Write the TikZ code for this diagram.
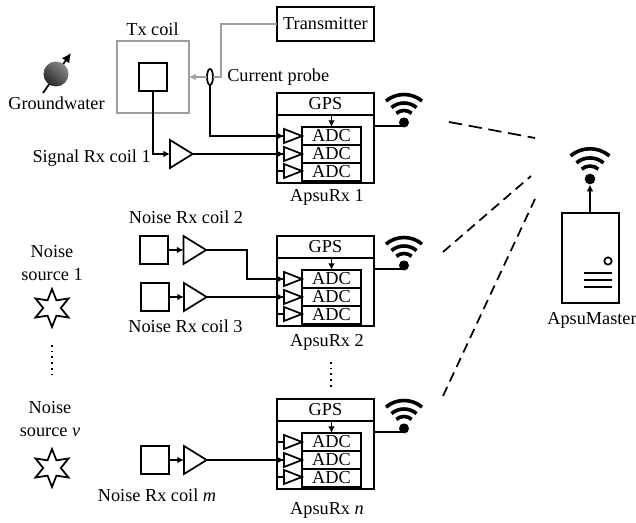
\documentclass[tikz,border=0pt]{standalone}
\usepackage{fontspec}
\setmainfont{Liberation Serif}
\usepackage{tikz}
\usetikzlibrary{arrows.meta,shapes.geometric}

\tikzset{
  every node/.style={font=\fontsize{13.7}{17}\selectfont},
  blk/.style={draw,line width=1.3pt},
  boxnode/.style={blk,rectangle,inner sep=0pt,outer sep=0pt},
  ampnode/.style={blk,isosceles triangle,isosceles triangle stretches,anchor=lower side,inner sep=0pt,outer sep=0pt,minimum width=21pt,minimum height=17pt},
  trinode/.style={ampnode,minimum width=10.5pt,minimum height=13.5pt},
  starnode/.style={blk,star,star points=6,star point ratio=2.15,inner sep=0pt,minimum size=28.5pt},
  wifidot/.style={circle,fill=black,inner sep=0pt,minimum size=7.5pt},
  link/.style={line width=1.3pt,-{Latex[length=5pt,width=5pt]}},
  graylink/.style={draw=black!38,line width=1.3pt},
  radio/.style={line width=1.3pt,dash pattern=on 7.5pt off 4.5pt},
  dotline/.style={line width=1.3pt,dash pattern=on 1.3pt off 3pt}
}

\begin{document}
\begin{tikzpicture}[x=0.75pt,y=0.75pt,yscale=-1,xscale=1]
\useasboundingbox (0,0) rectangle (636,523);

%Shape: Groundwater
\draw [line width=1.3pt,-{Latex[length=7pt,width=7pt]}] (43,93) -- (71,53);
\shade [top color=black!45,bottom color=black!85,shading angle=-40] (56,74) circle [radius=12.5];

% Text Node
\node (groundwater) at (56.5,103) {Groundwater};
\node (txlabel) at (152.5,29) {Tx coil};
\node [anchor=west,inner sep=0pt] (probelabel) at (227,77) {Current probe};
\node [anchor=east,inner sep=0pt] (siglabel) at (151,158) {Signal Rx coil 1};
\node (noiselabela) at (186,217) {Noise Rx coil 2};
\node (noiselabelb) at (185.5,326) {Noise Rx coil 3};
\node (noiselabelc) at (157,495) {Noise Rx coil \textit{m}};
\node [align=center] (sourcea) at (52,263) {Noise\\source 1};
\node [align=center] (sourceb) at (50,419) {Noise\\source \textit{v}};

%Shape: Star
\node [starnode] (stara) at (52,308) {};
\node [starnode] (starb) at (52,468) {};

%Straight Lines: dots
\draw [dotline] (52,345) -- (52,374);
\draw [dotline] (331,362) -- (331,390);

%Shape: Coils and transmitter
\node [boxnode,draw=black!38,minimum size=54pt] (txcoil) at (153,77) {};
\node [boxnode,minimum size=21pt] (sigcoil) at (153,77) {};
\node [boxnode,minimum width=72.75pt,minimum height=25.5pt] (transmitter) at (325.5,24) {Transmitter};
\node [blk,ellipse,inner sep=0pt,outer sep=0pt,minimum width=4.5pt,minimum height=12pt,fill=white] (probe) at (210,77) {};
\node [boxnode,minimum size=21pt] (coila) at (154,250) {};
\node [boxnode,minimum size=21pt] (coilb) at (155,297) {};
\node [boxnode,minimum size=21pt] (coilc) at (155,460) {};

%Shape: Amplifiers
\node [ampnode] (ampa) at (170,154) {};
\node [ampnode] (ampb) at (183.5,250) {};
\node [ampnode] (ampc) at (184,297) {};
\node [ampnode] (ampd) at (184,460) {};

%Shape: ApsuRx units
\foreach \r/\y/\lab/\ly in {1/93/1/197, 2/236/2/342, n/399/\textit{n}/510} {
  \node [boxnode,anchor=north west,minimum width=72.75pt,minimum height=67.5pt] (rx\r) at (277,\y) {};
  \node [boxnode,anchor=north west,minimum width=72.75pt,minimum height=16.5pt] (gps\r) at (277,\y) {GPS};
  \node (rxlabel\r) at (327,\ly) {ApsuRx \lab};
  \foreach \k/\dy/\ty in {1/43/43, 2/61/61, 3/79/78} {
    \node [boxnode,minimum width=44.25pt,minimum height=13.5pt] (adc\r\k) at (331.5,\y+\dy) {ADC};
    \node [trinode] (tri\r\k) at (284,\y+\ty) {};
    \draw [line width=1.3pt] (rx\r.west |- tri\r\k.lower side) -- (tri\r\k.lower side);
  }
  \draw [link] (gps\r.south -| adc\r1.north) -- (adc\r1.north);
  \node [wifidot] (wifi\r) at (404,\y+29.5) {};
  \draw [link,shorten >=2pt] ([yshift=-9pt]rx\r.east) -| (wifi\r.south);
}

%Shape: ApsuMaster
\node [boxnode,minimum width=42.75pt,minimum height=67.5pt] (master) at (590.5,258) {};
\node [blk,circle,inner sep=0pt,outer sep=0pt,minimum size=5.5pt] (led) at (608,261) {};
\foreach \ly in {273,280,287} {
  \draw [line width=1.3pt] (583.5,\ly) -- (611.5,\ly);
}
\node [wifidot,minimum size=8pt] (wifim) at (590,179) {};
\draw [link] (master.north -| wifim) -- (wifim.south);
\node (masterlabel) at (592,320) {ApsuMaster};

%Shape: Wireless arcs
\foreach \w/\s in {wifi1/1, wifi2/1, wifin/1, wifim/1.08} {
  \foreach \rad in {12,19.5,28} {
    \draw [line width=2.7pt] (\w) ++(-130:\s*\rad) arc (-130:-50:\s*\rad);
  }
}

%Straight Lines: signal paths
\draw [graylink] (transmitter.west) -- (221,24) -- (221,77) -- (probe.east);
\draw [graylink,-{Latex[length=5pt,width=5pt]}] (probe.west) -- (txcoil.east);
\draw [link] (sigcoil.south) |- (ampa.lower side);
\draw [link] (ampa.apex) -- (tri12.lower side);
\draw [link] (probe.south) |- (tri11.lower side);
\draw [link] (coila.east) -- (ampb.lower side);
\draw [link] (coilb.east) -- (ampc.lower side);
\draw [link] (coilc.east) -- (ampd.lower side);
\draw [link] (ampb.apex) -- ++(41,0) |- (tri21.lower side);
\draw [link] (ampc.apex) -- (tri22.lower side);
\draw [link] (ampd.apex) -- (trin2.lower side);

%Straight Lines: radio links
\coordinate (linkaa) at (449,122);
\coordinate (linkab) at (535,138);
\coordinate (linkba) at (443,252);
\coordinate (linkbb) at (531,176);
\coordinate (linkca) at (443,396);
\coordinate (linkcb) at (535,199);
\draw [radio,dash pattern=on 10pt off 5pt] (linkaa) -- (linkab);
\draw [radio] (linkba) -- (linkbb);
\draw [radio] (linkca) -- (linkcb);

\end{tikzpicture}
\end{document}
